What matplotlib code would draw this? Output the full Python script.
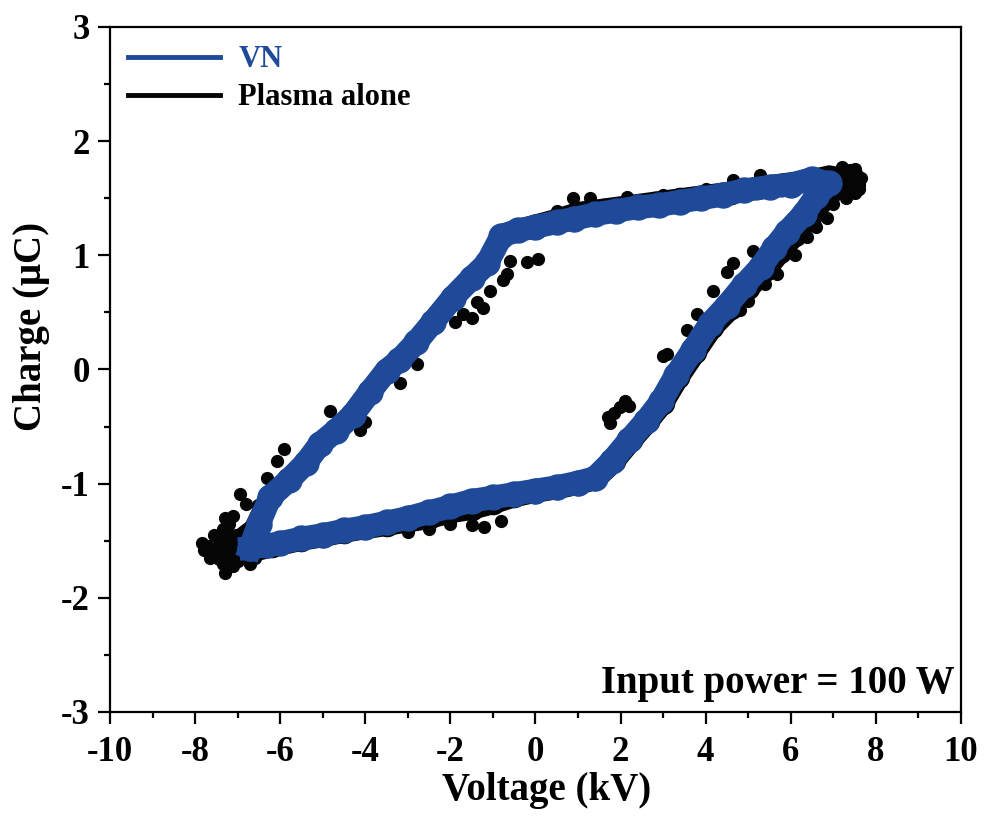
import matplotlib.pyplot as plt
from matplotlib.lines import Line2D
from matplotlib.ticker import MultipleLocator

# Q-V (Lissajous) loop: voltage in kV, charge in uC
vn_v = [-6.7, -6.3, -6.0, -5.5, -5.0, -4.5, -4.0, -3.5, -3.0, -2.5, -2.0, -1.5, -1.0, -0.5, 0.0, 0.5, 1.0, 1.4,
        1.8, 2.2, 2.6, 2.95, 3.3, 3.7, 4.1, 4.5, 4.9, 5.3, 5.6, 5.9, 6.3, 6.6, 6.9,
        6.5, 6.0, 5.5, 4.9, 4.4, 3.9, 3.4, 2.9, 2.4, 1.9, 1.4, 0.9, 0.5, 0.0, -0.4, -0.8,
        -1.14, -1.5, -1.94, -2.4, -2.8, -3.2, -3.5, -3.9, -4.3, -4.7, -5.06, -5.4, -5.8, -6.24, -6.5, -6.7]
vn_q = [-1.56, -1.54, -1.52, -1.48, -1.45, -1.41, -1.38, -1.34, -1.30, -1.25, -1.20, -1.15, -1.12, -1.09, -1.06, -1.03, -0.99, -0.95,
        -0.80, -0.62, -0.45, -0.28, -0.05, 0.17, 0.40, 0.56, 0.74, 0.90, 1.06, 1.20, 1.36, 1.52, 1.63,
        1.67, 1.62, 1.60, 1.57, 1.53, 1.50, 1.47, 1.44, 1.42, 1.39, 1.36, 1.32, 1.29, 1.25, 1.22, 1.17,
        0.93, 0.80, 0.63, 0.42, 0.24, 0.08, -0.01, -0.20, -0.40, -0.54, -0.65, -0.82, -0.97, -1.12, -1.35, -1.56]

plasma_v = [-7.3, -6.8, -6.2, -5.5, -5.0, -4.5, -4.0, -3.5, -3.0, -2.5, -2.0, -1.5, -1.0, -0.5, 0.0, 0.5, 1.0, 1.4,
            1.85, 2.25, 2.65, 3.0, 3.35, 3.75, 4.15, 4.6, 5.0, 5.4, 5.75, 6.1, 6.5, 6.9, 7.4,
            6.9, 6.4, 5.8, 5.2, 4.6, 4.0, 3.4, 2.8, 2.2, 1.6, 1.0, 0.5, 0.0, -0.4, -0.8,
            -1.14, -1.5, -1.94, -2.4, -2.8, -3.2, -3.5, -3.9, -4.3, -4.7, -5.06, -5.4, -5.8, -6.24, -6.6, -7.3]
plasma_q = [-1.60, -1.60, -1.55, -1.49, -1.46, -1.42, -1.39, -1.36, -1.33, -1.30, -1.25, -1.22, -1.17, -1.11, -1.07, -1.04, -1.00, -0.96,
            -0.80, -0.62, -0.45, -0.29, -0.07, 0.15, 0.37, 0.54, 0.71, 0.87, 1.03, 1.18, 1.36, 1.54, 1.66,
            1.69, 1.65, 1.62, 1.59, 1.55, 1.52, 1.49, 1.46, 1.43, 1.40, 1.37, 1.31, 1.26, 1.22, 1.17,
            0.93, 0.80, 0.63, 0.42, 0.24, 0.08, -0.01, -0.20, -0.40, -0.54, -0.65, -0.82, -0.97, -1.12, -1.40, -1.60]

# scattered plasma-alone points that stick out of the VN band
plasma_extra_v = [-7.85, -7.7, -7.55, -7.5, -7.35, -7.3, -7.2, -7.1, -7.0, -6.9, -6.7, -6.6, -6.94, -6.8, -6.52, -6.3,
                  -6.08, -5.9, -4.83, -4.12, -4.0, -3.18, -2.79, -1.9, -1.7, -1.49, -1.37, -1.23, -1.07, -0.76, -0.67,
                  -0.6, -0.2, 0.06, -3.0, -2.5, -2.0, -1.5, -1.2, -0.8, 0.5, 0.88, 1.28, 2.15, 3.0, 4.0, 4.64, 5.28,
                  7.2, 7.4, 7.55, 7.6, 7.5, 7.3, 7.1, 7.0, 6.85, 6.6, 6.38, 6.1, 5.68, 5.4, 5.0, 4.81,
                  5.11, 4.64, 4.5, 4.17, 3.8, 3.55, 3.09, 3.0, 2.2, 1.99, 2.1, 1.75, 1.7, 1.85,
                  -7.6, -7.4, -7.25, -7.15, -7.45, -7.05, -7.65, -7.8, -7.35, -7.2, -7.0, -6.85, -7.3, -7.1,
                  7.65, 7.6, 7.45, 7.3, 7.15, 7.35, 7.5, 7.05, 6.95]
plasma_extra_q = [-1.52, -1.55, -1.45, -1.62, -1.70, -1.78, -1.35, -1.28, -1.68, -1.65, -1.70, -1.65, -1.09, -1.18, -1.19, -0.95,
                  -0.80, -0.70, -0.36, -0.53, -0.46, -0.12, 0.05, 0.42, 0.49, 0.45, 0.59, 0.54, 0.69, 0.78, 0.84,
                  0.95, 0.94, 0.97, -1.42, -1.40, -1.35, -1.36, -1.38, -1.33, 1.39, 1.50, 1.50, 1.51, 1.53, 1.58, 1.66, 1.70,
                  1.77, 1.75, 1.70, 1.62, 1.55, 1.50, 1.72, 1.45, 1.33, 1.25, 1.16, 1.00, 0.84, 0.75, 0.60, 0.52,
                  1.04, 0.93, 0.85, 0.69, 0.49, 0.35, 0.14, 0.12, -0.32, -0.33, -0.28, -0.47, -0.42, -0.38,
                  -1.60, -1.50, -1.42, -1.55, -1.66, -1.45, -1.65, -1.58, -1.40, -1.48, -1.55, -1.62, -1.30, -1.72,
                  1.68, 1.58, 1.64, 1.68, 1.62, 1.58, 1.76, 1.55, 1.62]

blue = "#1f4a99"
black = "#050505"

plt.rcParams["font.family"] = ["Liberation Serif", "DejaVu Serif"]
plt.rcParams["font.weight"] = "bold"
plt.rcParams["axes.unicode_minus"] = False

fig, ax = plt.subplots(figsize=(9.85, 8.18), dpi=100)
fig.subplots_adjust(left=0.1117, right=0.9756, top=0.967, bottom=0.1296)

ax.plot(plasma_v, plasma_q, "-o", color=black, lw=16, ms=16, solid_joinstyle="round")
ax.plot(plasma_extra_v, plasma_extra_q, "o", color=black, ms=8.5)
ax.plot(vn_v, vn_q, "-o", color=blue, lw=17, ms=18, solid_joinstyle="round")

ax.set_xlim(-10, 10)
ax.set_ylim(-3, 3)
ax.xaxis.set_major_locator(MultipleLocator(2))
ax.xaxis.set_minor_locator(MultipleLocator(1))
ax.yaxis.set_major_locator(MultipleLocator(1))
ax.yaxis.set_minor_locator(MultipleLocator(0.5))
ax.tick_params(which="both", direction="out", width=1.6, labelsize=25, top=False, right=False)
ax.tick_params(which="major", length=8.5)
ax.tick_params(which="minor", length=4)
ax.tick_params(axis="x", pad=9)
ax.tick_params(axis="y", pad=6)
for s in ax.spines.values():
    s.set_linewidth(1.6)

ax.set_xlabel("Voltage (kV)", fontsize=28, fontweight="bold")
ax.set_ylabel("Charge (\u03bcC)", fontsize=28, fontweight="bold")
ax.xaxis.set_label_coords(0.5135, -0.088)
ax.yaxis.set_label_coords(-0.07, 0.563)

handles = [Line2D([], [], color=blue, lw=3.5), Line2D([], [], color=black, lw=3.5)]
leg = ax.legend(handles, ["VN", "Plasma alone"], loc="upper left", frameon=False,
                handlelength=3.0, handletextpad=0.6, labelspacing=0.3,
                borderaxespad=0.2, prop={"weight": "bold", "size": 22})
leg.get_texts()[0].set_color(blue)

ax.text(0.992, 0.015, "Input power = 100 W", transform=ax.transAxes, ha="right", va="bottom",
        fontsize=28, fontweight="bold")

fig.savefig("out.png")
